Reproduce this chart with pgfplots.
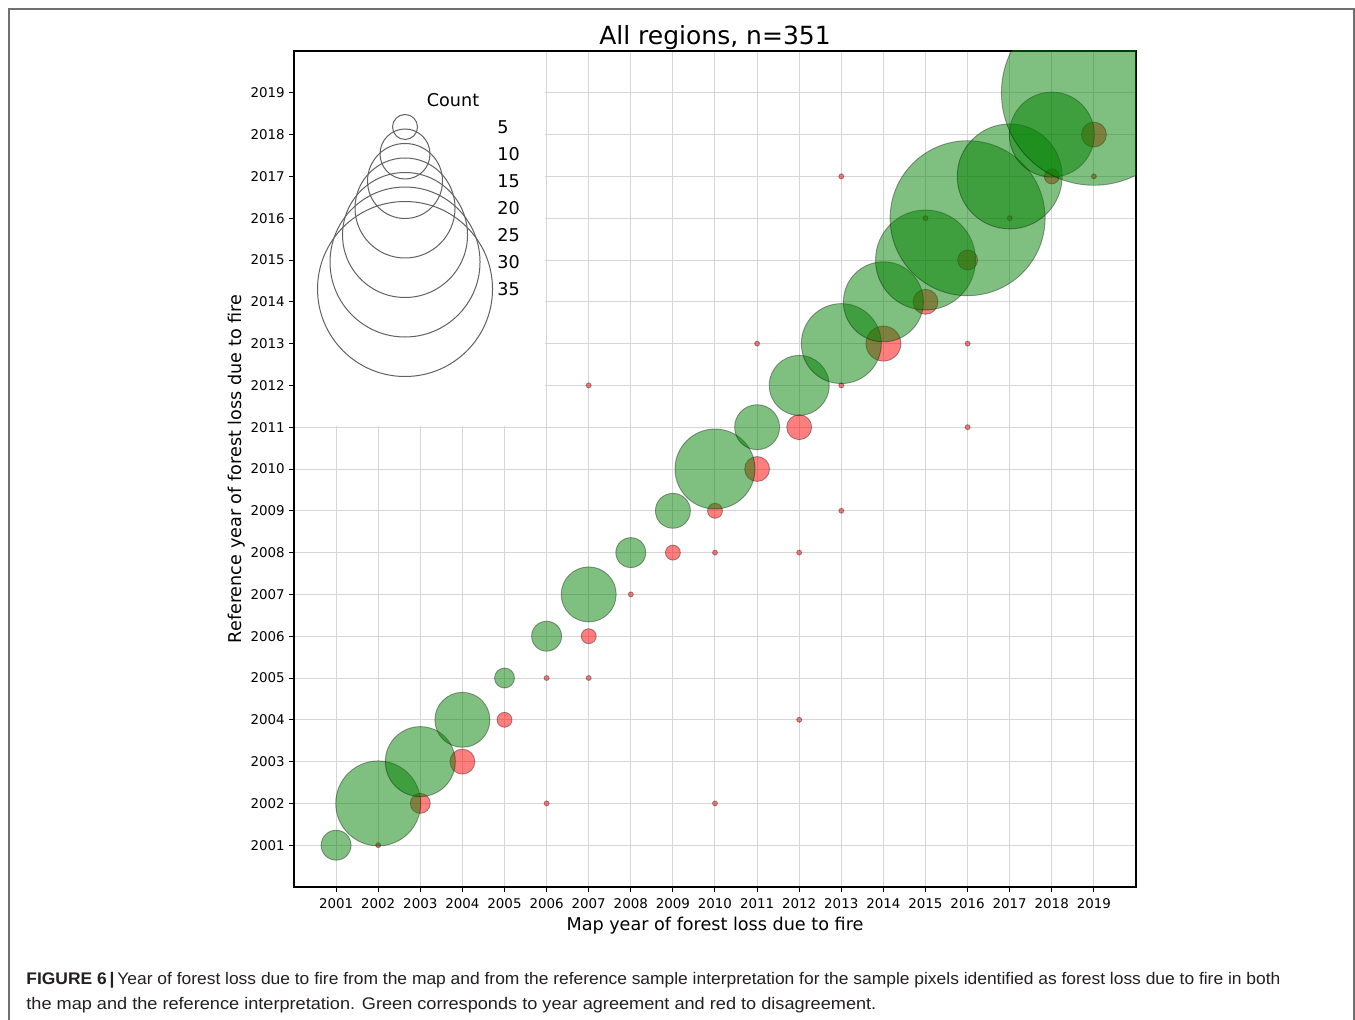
\documentclass[border=0pt]{standalone}
\usepackage{pgfplots}
\usepackage{pgfplotstable}
\pgfplotsset{compat=1.18}
\usepackage{graphicx}
\usepackage{fontspec}
\setmainfont{DejaVu Sans}
\newfontfamily\capfont{Liberation Sans}

\definecolor{agree}{RGB}{0,128,0}
\definecolor{disagree}{RGB}{255,0,0}
\definecolor{gridgray}{RGB}{214,214,214}
\definecolor{framegray}{RGB}{112,112,112}
\definecolor{captext}{RGB}{35,31,32}

% Same year in map and reference: year, count
\pgfplotstableread{
x y n
2001 2001 6
2002 2002 17
2003 2003 14
2004 2004 11
2005 2005 4
2006 2006 6
2007 2007 11
2008 2008 6
2009 2009 7
2010 2010 16
2011 2011 9
2012 2012 12
2013 2013 16
2014 2014 16
2015 2015 20
2016 2016 31
2017 2017 21
2018 2018 17
2019 2019 37
}\agreetable

% Different years: map year, reference year, count
\pgfplotstableread{
x y n
2002 2001 1
2003 2002 4
2006 2002 1
2010 2002 1
2004 2003 5
2005 2004 3
2012 2004 1
2006 2005 1
2007 2005 1
2007 2006 3
2008 2007 1
2009 2008 3
2010 2008 1
2012 2008 1
2010 2009 3
2013 2009 1
2011 2010 5
2012 2011 5
2016 2011 1
2007 2012 1
2013 2012 1
2011 2013 1
2014 2013 7
2016 2013 1
2015 2014 5
2016 2015 4
2015 2016 1
2017 2016 1
2013 2017 1
2018 2017 3
2019 2017 1
2019 2018 5
}\disagreetable

% Size key: bubble centres and the counts they stand for
\pgfplotstableread{
x y n
2002.637 2018.182 5
2002.637 2017.536 10
2002.637 2016.890 15
2002.637 2016.244 20
2002.637 2015.598 25
2002.637 2014.952 30
2002.637 2014.306 35
}\keytable

% bubble radius: 1.25pt per counted pixel
\pgfplotsset{
  bubble/.style={
    only marks, mark=*, scatter,
    line width=0.45pt,
    scatter/use mapped color={draw=black, draw opacity=0.35, fill=#1, fill opacity=0.5},
    visualization depends on={1.25*\thisrow{n} \as \bubblerad},
    scatter/@pre marker code/.append style={/tikz/mark size=\bubblerad pt},
  },
  keybubble/.style={
    only marks, mark=o, scatter,
    line width=0.5pt,
    scatter/use mapped color={draw=black!62, fill=none},
    visualization depends on={1.25*\thisrow{n} \as \bubblerad},
    scatter/@pre marker code/.append style={/tikz/mark size=\bubblerad pt},
  },
}
\tikzset{keylabel/.style={font=\fontsize{8.8}{10}\selectfont, inner sep=0pt, anchor=west}}

\begin{document}
\begin{tikzpicture}
\path[use as bounding box, fill=white] (0,0) rectangle (677.5pt,509.5pt);
\draw[framegray, line width=0.6pt] (4.5pt,-2pt) -- (4.5pt,505pt) -- (677pt,505pt) -- (677pt,-2pt);

\begin{axis}[
  at={(147pt,66pt)}, anchor=south west,
  scale only axis, width=421pt, height=418pt,
  xmin=2000, xmax=2020, ymin=2000, ymax=2020,
  xtick={2001,...,2019}, ytick={2001,...,2019},
  tick pos=left, tick align=outside, major tick length=2.6pt,
  tick style={black, line width=0.5pt},
  grid=major, grid style={gridgray, line width=0.5pt},
  axis line style={black, line width=0.6pt},
  clip marker paths=true,
  /pgf/number format/1000 sep={},
  /pgf/number format/assume math mode=true,
  tick label style={font=\fontsize{6.7}{8}\selectfont},
  yticklabel style={xshift=1.5pt},
  xticklabel style={yshift=0.5pt},
  title={All regions, n=351},
  title style={at={(axis description cs:0.5,1.0084)}, anchor=base, yshift=-6.5pt, inner sep=0pt, font=\fontsize{12.5}{15}\selectfont},
  xlabel={Map year of forest loss due to fire},
  xlabel style={at={(axis description cs:0.5,-0.0515)}, anchor=base, inner sep=0pt, font=\fontsize{8.8}{10}\selectfont},
  ylabel={Reference year of forest loss due to fire},
  ylabel style={at={(axis description cs:-0.0629,0.5)}, anchor=base, inner sep=0pt, font=\fontsize{8.8}{10}\selectfont},
]
% disagreement first, agreement drawn over it
\addplot[bubble=disagree] table[x=x, y=y] {\disagreetable};
\addplot[bubble=agree] table[x=x, y=y] {\agreetable};

% size key on a plain white panel
\fill[white] ([xshift=0.4pt, yshift=-0.4pt]rel axis cs:0,1) rectangle (axis cs:2005.97,2011.03);
\addplot[keybubble] table[x=x, y=y] {\keytable};
\node[font=\fontsize{8.8}{10}\selectfont, inner sep=0pt] at (axis cs:2003.777,2018.828) {Count};
\node[keylabel] at (axis cs:2004.822,2018.182) {5};
\node[keylabel] at (axis cs:2004.822,2017.536) {10};
\node[keylabel] at (axis cs:2004.822,2016.890) {15};
\node[keylabel] at (axis cs:2004.822,2016.244) {20};
\node[keylabel] at (axis cs:2004.822,2015.598) {25};
\node[keylabel] at (axis cs:2004.822,2014.952) {30};
\node[keylabel] at (axis cs:2004.822,2014.306) {35};
\end{axis}

\node[anchor=base west, inner sep=0pt, text=captext] at (13pt,17.5pt)
  {\resizebox{627pt}{\height}{\capfont\fontsize{8.4}{10}\selectfont\textbf{FIGURE 6\,|}\,Year of forest loss due to fire from the map and from the reference sample interpretation for the sample pixels identified as forest loss due to fire in both}};
\node[anchor=base west, inner sep=0pt, text=captext] at (13pt,5pt)
  {\resizebox{425pt}{\height}{\capfont\fontsize{8.4}{10}\selectfont the map and the reference interpretation. Green corresponds to year agreement and red to disagreement.}};
\end{tikzpicture}
\end{document}
